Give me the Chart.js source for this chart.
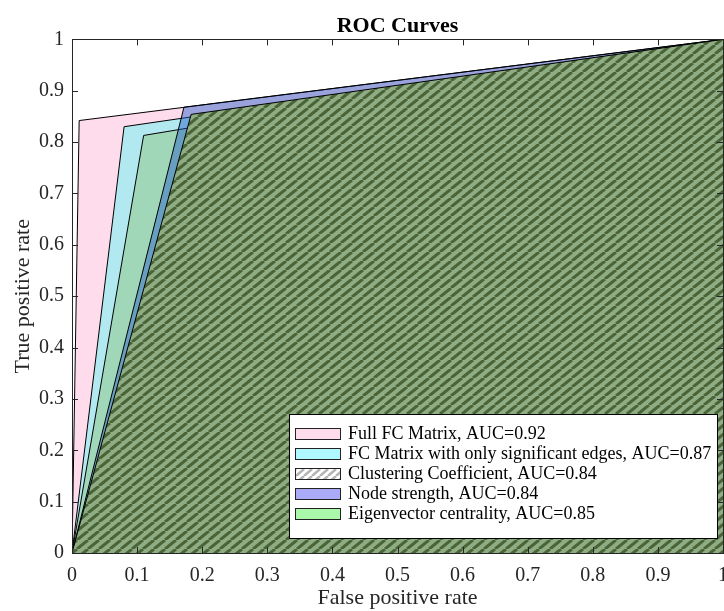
<!DOCTYPE html>
<html>
<head>
<meta charset="utf-8">
<style>
html, body { margin: 0; padding: 0; background: #fff; overflow: hidden; }
</style>
<script src="https://cdn.jsdelivr.net/npm/chart.js@4.4.0/dist/chart.umd.min.js"></script>
</head>
<body>
<canvas id="roc" width="724" height="611"></canvas>
<script>
// data
const curveNames = ['Full FC Matrix', 'FC Matrix with only significant edges', 'Clustering Coefficient', 'Node strength', 'Eigenvector centrality'];
const aucValues = ['0.92', '0.87', '0.84', '0.84', '0.85'];
const fprValues = [0.011, 0.08, 0.183, 0.172, 0.11];
const tprValues = [0.842, 0.83, 0.854, 0.868, 0.813];
const tickValues = [0, 0.1, 0.2, 0.3, 0.4, 0.5, 0.6, 0.7, 0.8, 0.9, 1];
const tickLabels = ['0', '0.1', '0.2', '0.3', '0.4', '0.5', '0.6', '0.7', '0.8', '0.9', '1'];

const canvas = document.getElementById('roc');
const ctx = canvas.getContext('2d');

// diagonal stripes, tile w x h
function makeHatch(bg, fg, w, h, lw) {
    var c = document.createElement('canvas');
    c.width = w; c.height = h;
    var g = c.getContext('2d');
    g.fillStyle = bg;
    g.fillRect(0, 0, w, h);
    g.strokeStyle = fg;
    g.lineWidth = lw;
    g.beginPath();
    for (var k = -1; k <= 1; k++) {
        g.moveTo(k * w, h);
        g.lineTo(k * w + w, 0);
    }
    g.stroke();
    return ctx.createPattern(c, 'repeat');
}

var plotHatch = makeHatch('#8EAD84', '#4B6437', 11, 9, 3);
var legendHatch = makeHatch('#ffffff', '#b4b4b4', 8, 7, 2.5);

var fillColors = ['#FFDCEC', '#B2E8F0', plotHatch, 'rgba(30,90,200,0.45)', '#A0D7B9'];
var swatchColors = ['#FFDCEC', '#B0F8FF', legendHatch, '#AAAAF8', '#AAF8AA'];
var drawOrder = [5, 4, 1, 2, 3];

var datasets = curveNames.map(function (name, i) {
    return {
        label: name + ', AUC=' + aucValues[i],
        data: [{ x: 0, y: 0 }, { x: fprValues[i], y: tprValues[i] }, { x: 1, y: 1 }],
        showLine: true,
        fill: 'origin',
        backgroundColor: fillColors[i],
        borderColor: '#000',
        borderWidth: 1,
        pointRadius: 0,
        order: drawOrder[i]
    };
});

// box, inward ticks and legend
var matlabLook = {
    id: 'matlabLook',
    afterDraw: function (chart) {
        var c = chart.ctx, a = chart.chartArea;
        var sx = chart.scales.x, sy = chart.scales.y;
        c.save();
        c.strokeStyle = '#262626';
        c.lineWidth = 1;
        c.beginPath();
        tickValues.forEach(function (v) {
            var px = Math.round(sx.getPixelForValue(v)) + 0.5;
            c.moveTo(px, a.bottom); c.lineTo(px, a.bottom - 6);
            c.moveTo(px, a.top); c.lineTo(px, a.top + 6);
            var py = Math.round(sy.getPixelForValue(v)) + 0.5;
            c.moveTo(a.left, py); c.lineTo(a.left + 6, py);
            c.moveTo(a.right, py); c.lineTo(a.right - 6, py);
        });
        c.stroke();
        c.strokeRect(Math.round(a.left) + 0.5, Math.round(a.top) + 0.5, Math.round(a.right - a.left), Math.round(a.bottom - a.top));

        // legend
        var bx = 289, by = 414, bw = 428, bh = 124;
        c.fillStyle = '#fff';
        c.fillRect(bx, by, bw, bh);
        c.strokeStyle = '#000';
        c.strokeRect(bx + 0.5, by + 0.5, bw, bh);
        c.font = '18px "Liberation Serif"';
        c.textBaseline = 'middle';
        chart.data.datasets.forEach(function (ds, i) {
            var cy = 433 + i * 20;
            c.fillStyle = swatchColors[i];
            c.fillRect(295, cy - 5, 45, 11);
            c.strokeStyle = '#222';
            c.strokeRect(295.5, cy - 5 + 0.5, 45, 11);
            c.fillStyle = '#000';
            c.fillText(ds.label, 348, cy + 1);
        });
        c.restore();
    }
};

var tickFont = { family: 'Liberation Serif', size: 20 };

new Chart(ctx, {
    type: 'scatter',
    data: { datasets: datasets },
    options: {
        responsive: false,
        animation: false,
        layout: { padding: 0 },
        plugins: {
            legend: { display: false },
            tooltip: { enabled: false },
            title: {
                display: true,
                text: 'ROC Curves',
                fullSize: false,
                color: '#000',
                font: { family: 'Liberation Serif', size: 22, weight: 'bold' },
                padding: { top: 13, bottom: 0 }
            }
        },
        scales: {
            x: {
                type: 'linear',
                position: 'bottom',
                min: 0, max: 1,
                afterBuildTicks: function (scale) {
                    scale.ticks = tickValues.map(function (v) { return { value: v }; });
                },
                afterFit: function (scale) {
                    scale.height = 58;
                    scale.paddingRight = 1;
                },
                ticks: {
                    autoSkip: false, maxRotation: 0, padding: 11,
                    color: '#262626', font: tickFont,
                    callback: function (v, i) { return tickLabels[i]; }
                },
                grid: { display: false, drawTicks: false },
                border: { display: false },
                title: {
                    display: true, text: 'False positive rate', color: '#262626',
                    font: { family: 'Liberation Serif', size: 22 },
                    padding: { top: 0, bottom: 0 }
                }
            },
            y: {
                type: 'linear',
                position: 'left',
                min: 0, max: 1,
                afterBuildTicks: function (scale) {
                    scale.ticks = tickValues.map(function (v) { return { value: v }; });
                },
                afterFit: function (scale) {
                    scale.width = 72;
                },
                ticks: {
                    autoSkip: false, padding: 8,
                    color: '#262626', font: tickFont,
                    callback: function (v, i) { return tickLabels[i]; }
                },
                grid: { display: false, drawTicks: false },
                border: { display: false },
                title: {
                    display: true, text: 'True positive rate', color: '#262626',
                    font: { family: 'Liberation Serif', size: 22 },
                    padding: { top: 10, bottom: 0 }
                }
            }
        }
    },
    plugins: [matlabLook]
});
</script>
</body>
</html>
